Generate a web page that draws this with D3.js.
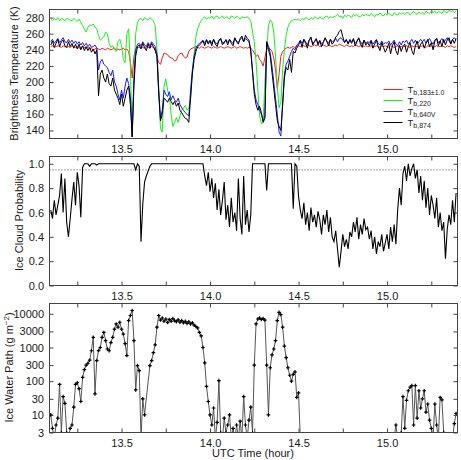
<!DOCTYPE html>
<html>
<head>
<meta charset="utf-8">
<script src="https://cdn.jsdelivr.net/npm/d3@7"></script>
<style>
body { margin: 0; background: #fff; }
text { font-family: "Liberation Sans", Arial, sans-serif; fill: #1a1a1a; }
.axis text { font-size: 11px; }
.axis line { stroke: #444; }
.axis path { display: none; }
</style>
</head>
<body>
<script>
// UTC time (hour), one sample every 0.01 h
var times = [
  13.10,13.11,13.12,13.13,13.14,13.15,13.16,13.17,13.18,13.19,
  13.20,13.21,13.22,13.23,13.24,13.25,13.26,13.27,13.28,13.29,
  13.30,13.31,13.32,13.33,13.34,13.35,13.36,13.37,13.38,13.39,
  13.40,13.41,13.42,13.43,13.44,13.45,13.46,13.47,13.48,13.49,
  13.50,13.51,13.52,13.53,13.54,13.55,13.56,13.57,13.58,13.59,
  13.60,13.61,13.62,13.63,13.64,13.65,13.66,13.67,13.68,13.69,
  13.70,13.71,13.72,13.73,13.74,13.75,13.76,13.77,13.78,13.79,
  13.80,13.81,13.82,13.83,13.84,13.85,13.86,13.87,13.88,13.89,
  13.90,13.91,13.92,13.93,13.94,13.95,13.96,13.97,13.98,13.99,
  14.00,14.01,14.02,14.03,14.04,14.05,14.06,14.07,14.08,14.09,
  14.10,14.11,14.12,14.13,14.14,14.15,14.16,14.17,14.18,14.19,
  14.20,14.21,14.22,14.23,14.24,14.25,14.26,14.27,14.28,14.29,
  14.30,14.31,14.32,14.33,14.34,14.35,14.36,14.37,14.38,14.39,
  14.40,14.41,14.42,14.43,14.44,14.45,14.46,14.47,14.48,14.49,
  14.50,14.51,14.52,14.53,14.54,14.55,14.56,14.57,14.58,14.59,
  14.60,14.61,14.62,14.63,14.64,14.65,14.66,14.67,14.68,14.69,
  14.70,14.71,14.72,14.73,14.74,14.75,14.76,14.77,14.78,14.79,
  14.80,14.81,14.82,14.83,14.84,14.85,14.86,14.87,14.88,14.89,
  14.90,14.91,14.92,14.93,14.94,14.95,14.96,14.97,14.98,14.99,
  15.00,15.01,15.02,15.03,15.04,15.05,15.06,15.07,15.08,15.09,
  15.10,15.11,15.12,15.13,15.14,15.15,15.16,15.17,15.18,15.19,
  15.20,15.21,15.22,15.23,15.24,15.25,15.26,15.27,15.28,15.29,
  15.30,15.31,15.32,15.33,15.34,15.35,15.36,15.37,15.38,15.39
];

// brightness temperatures (K)
var tb183 = [
  244,245,243,244,245,244,243,245,244,243, 244,243,245,244,243,244,242,243,244,243,
  242,243,241,242,240,241,242,241,240,242, 241,240,242,241,240,241,242,240,241,240,
  241,242,240,241,238,225,205,232,241,243, 243,244,243,242,244,243,242,244,243,241,
  232,224,222,230,236,235,234,231,230,229, 226,227,233,235,236,232,230,231,238,241,
  242,243,244,243,242,244,243,242,243,244, 243,242,244,243,242,243,244,243,242,243,
  244,243,242,243,244,242,243,244,243,242, 243,242,243,242,240,236,232,234,228,225,
  220,230,241,242,241,238,230,215,192,210, 232,238,240,242,243,242,243,244,243,244,
  245,244,246,245,244,246,245,244,245,246, 245,246,244,245,246,245,244,246,245,244,
  245,246,245,247,246,245,244,246,245,244, 245,244,246,245,244,245,246,244,245,244,
  244,245,243,244,245,244,243,245,244,245, 244,243,245,244,243,244,245,243,244,245,
  244,245,244,243,245,244,245,244,243,244, 245,244,243,245,244,245,243,244,245,244,
  244,245,244,243,245,244,245,244,243,244
];
var tb220 = [
  278,276,279,277,280,276,279,278,276,279, 278,277,276,279,277,275,278,274,270,266,
  262,268,271,270,272,268,266,258,252,254, 256,262,260,248,243,245,240,238,250,253,
  245,228,224,260,266,218,138,205,260,274, 278,279,276,280,278,277,280,278,276,270,
  240,195,142,138,195,204,190,182,160,145, 150,156,150,158,165,168,171,165,168,178,
  212,235,256,266,272,276,279,281,278,280, 279,282,278,281,282,279,280,282,279,281,
  280,278,282,281,279,282,280,278,281,280, 280,281,279,276,262,250,225,190,158,148,
  150,200,240,270,277,274,262,232,195,168, 175,215,240,258,268,273,276,277,278,277,
  278,276,279,277,280,279,277,280,278,281, 280,278,281,279,278,281,282,279,281,280,
  281,282,284,281,282,279,283,281,283,282, 280,284,282,284,281,281,284,282,284,283,
  282,285,283,281,284,283,286,283,282,285, 283,285,284,282,286,284,283,286,284,286,
  284,286,286,283,285,288,285,284,287,285, 286,284,288,286,285,288,286,288,285,287,
  287,285,289,287,286,289,287,289,286,288
];
var tb640 = [
  250,253,248,251,254,249,252,255,250,249, 253,249,252,248,251,247,250,246,249,245,
  248,244,247,243,244,246,242,215,225,228, 222,220,218,212,208,215,200,195,185,178,
  190,180,195,205,198,182,132,205,240,247, 248,245,250,246,244,249,245,250,247,244,
  235,190,155,165,190,185,182,188,178,183, 178,175,180,172,168,165,162,160,158,190,
  215,232,242,246,248,250,252,248,253,249, 252,248,253,249,247,252,254,249,248,253,
  249,253,250,248,254,251,249,253,255,250, 254,252,250,240,215,190,178,172,165,160,
  152,158,250,245,236,220,200,180,160,138, 133,175,210,222,226,232,238,242,240,246,
  248,252,248,253,250,246,252,254,248,250, 253,248,252,247,250,254,251,248,253,250,
  251,254,250,254,255,252,249,252,248,253, 250,253,248,251,254,250,247,252,248,250,
  249,252,247,250,253,248,246,251,247,249, 248,251,246,249,252,247,245,250,246,251,
  249,252,247,250,253,248,252,247,250,253, 250,253,248,251,254,250,247,252,254,249,
  251,254,249,252,255,251,248,253,255,252
];
var tb874 = [
  246,251,243,248,253,244,250,252,245,243, 250,244,248,242,247,241,247,240,245,239,
  244,239,243,237,241,235,240,183,210,215, 205,200,210,198,195,205,190,185,180,172,
  185,170,180,190,195,172,132,195,232,244, 246,241,248,243,239,247,242,248,244,239,
  232,185,152,160,180,178,175,180,176,172, 176,170,174,165,162,158,155,154,150,180,
  210,228,238,244,246,248,251,245,252,247, 251,245,253,247,244,251,254,246,250,252,
  246,253,248,245,255,250,247,254,257,250, 258,254,252,238,212,185,172,165,170,162,
  150,155,250,240,232,212,192,172,152,145, 140,170,205,218,215,228,212,238,236,242,
  246,251,243,253,248,242,252,256,246,250, 254,246,251,244,249,255,250,245,253,247,
  250,256,258,263,265,256,249,253,247,252, 248,254,245,250,255,247,243,252,246,249,
  245,251,242,247,252,244,239,249,243,237, 242,248,235,245,250,239,234,246,238,244,
  247,237,244,249,239,234,245,251,241,247, 250,242,248,253,244,249,240,251,254,245,
  251,244,253,246,252,255,247,253,248,254
];

// ice cloud probability
var iceProb = [
  0.62,0.55,0.70,0.58,0.66,0.74,0.92,0.60,0.88,0.52, 0.40,0.55,0.71,0.85,0.66,0.93,0.82,0.56,0.97,1.00,
  1.00,1.00,0.98,1.00,1.00,1.00,0.99,1.00,1.00,1.00, 1.00,1.00,1.00,1.00,1.00,1.00,1.00,1.00,1.00,1.00,
  1.00,1.00,1.00,1.00,1.00,1.00,1.00,1.00,0.95,1.00, 0.98,0.36,0.67,0.85,0.90,0.94,0.98,1.00,1.00,1.00,
  1.00,1.00,1.00,1.00,1.00,1.00,1.00,1.00,1.00,1.00, 1.00,1.00,1.00,1.00,1.00,1.00,1.00,1.00,1.00,1.00,
  1.00,1.00,1.00,1.00,1.00,1.00,1.00,0.90,0.82,0.93, 0.77,0.88,0.72,0.84,0.62,0.79,0.58,0.70,0.85,0.54,
  0.66,0.48,0.72,0.52,0.60,0.45,0.88,0.55,0.42,0.90, 0.50,0.62,0.44,0.58,1.00,1.00,1.00,1.00,1.00,1.00,
  1.00,1.00,0.78,1.00,1.00,1.00,1.00,1.00,1.00,1.00, 1.00,1.00,1.00,1.00,1.00,1.00,1.00,0.63,1.00,0.98,
  0.73,0.62,0.55,0.68,0.50,0.60,0.45,0.64,0.52,0.58, 0.48,0.61,0.54,0.42,0.58,0.50,0.62,0.44,0.56,0.40,
  0.36,0.45,0.30,0.15,0.28,0.42,0.32,0.38,0.30,0.44, 0.40,0.52,0.44,0.56,0.38,0.50,0.42,0.55,0.46,0.48,
  0.38,0.45,0.30,0.40,0.26,0.36,0.32,0.42,0.28,0.35, 0.42,0.30,0.48,0.36,0.50,0.34,0.62,0.80,0.66,0.92,
  0.98,0.86,1.00,0.90,0.96,1.00,0.88,0.95,0.76,0.90, 0.70,0.86,0.64,0.80,0.58,0.74,0.66,0.55,0.72,0.48,
  0.60,0.45,0.52,0.22,0.46,0.58,0.50,0.70,0.52,0.76
];
var probThreshold = 0.95;

// ice water path (g m-2), 2 = below the plotted range, null = no retrieval
var iwp = [
  10,4,2,5,8,80,3,35,22,3, 2,4,5,17,80,90,60,25,130,220,
  300,340,420,800,2000,42,410,810,1000,2000, 2800,1600,900,800,1400,2000,3500,5000,4000,5600,
  3500,2500,1300,575,6300,8900,12500,1600,55,290, 206,2,30,10,null,null,290,410,700,1200,
  4000,8900,6500,7500,6000,7000,5500,6800,6000,7200, 6200,5800,6600,5600,6300,5400,6000,5200,5800,5000,
  5400,4600,4200,3800,2800,2200,1000,350,70,25, 10,5,16,2,6,104,3,2,8,3,
  5,10,2,4,2,5,2,6.5,2,35, 5,2,7,17,3,300,5000,7000,7500,6800,
  7200,6500,300,10,250,600,900,1600,6300,11000, 9500,4000,1100,500,250,150,100,160,190,33,
  45,2,2,2,2,2,2,2,2,2, 2,2,2,2,2,2,2,2,2,2,
  2,2,2,2,2,2,2,2,2,2, 2,2,2,2,2,2,2,2,2,2,
  2,2,2,2,2,2,2,2,2,2, 2,2,2,2,2,5,2,2,3,35,
  4,27,52,66,74,5,74,8,52,16, 30,52,12,21,7,4,2,21,5,2,
  33,28,3,2,2,2,2,2,5.5,11
];

// ticks
var xTickLabels = [13.5, 14.0, 14.5, 15.0];
var xMinorTicks = [13.25, 13.75, 14.25, 14.75, 15.25];
var tbTicks = [140, 160, 180, 200, 220, 240, 260, 280];
var probTicks = [0, 0.2, 0.4, 0.6, 0.8, 1.0];
var iwpTicks = [3, 10, 30, 100, 300, 1000, 3000, 10000];

var legendLabels = ["b,183\u00b11.0", "b,220", "b,640V", "b,874"];
var colors = ["#ff1a1a", "#1aee1a", "#1a1aff", "#000000"];
var tbSeries = [tb183, tb220, tb640, tb874];

var margin = {left: 49, top: 9};
var width = 408, panelH = 129;
var tops = [9, 156, 303];

var svg = d3.select("body").append("svg")
    .attr("width", 461)
    .attr("height", 460);

var x = d3.scaleLinear().domain([13.093, 15.398]).range([0, width]);
var y1 = d3.scaleLinear().domain([130, 290]).range([panelH, 0]);
var y2 = d3.scaleLinear().domain([0, 1.06]).range([panelH, 0]);
var y3 = d3.scaleLog().domain([3, 20200]).range([panelH, 0]);

function makePanel(i, y, yTicks, yFormat) {
    var g = svg.append("g")
        .attr("transform", "translate(" + (margin.left + 0.5) + "," + (tops[i] + 0.5) + ")");

    g.append("clipPath").attr("id", "clip" + i)
        .append("rect").attr("width", width).attr("height", panelH);

    // ticks point inward on all four sides, labels only bottom/left
    g.append("g").attr("class", "axis")
        .attr("transform", "translate(0," + panelH + ")")
        .call(d3.axisBottom(x).tickValues(xTickLabels).tickSize(-4).tickPadding(6.5)
            .tickFormat(d3.format(".1f")));
    g.append("g").attr("class", "axis")
        .attr("transform", "translate(0," + panelH + ")")
        .call(d3.axisBottom(x).tickValues(xMinorTicks).tickSize(-4).tickFormat(""));
    g.append("g").attr("class", "axis")
        .call(d3.axisTop(x).tickValues(xTickLabels.concat(xMinorTicks)).tickSize(-4).tickFormat(""));
    g.append("g").attr("class", "axis")
        .call(d3.axisLeft(y).tickValues(yTicks).tickSize(-4).tickPadding(5.5).tickFormat(yFormat));
    g.append("g").attr("class", "axis")
        .attr("transform", "translate(" + width + ",0)")
        .call(d3.axisRight(y).tickValues(yTicks).tickSize(-4).tickFormat(""));

    var plot = g.append("g").attr("clip-path", "url(#clip" + i + ")");
    return {g: g, plot: plot};
}

// panel 1: brightness temperatures
var p1 = makePanel(0, y1, tbTicks, d3.format("d"));
tbSeries.forEach(function(series, k) {
    p1.plot.append("path")
        .datum(series)
        .attr("fill", "none")
        .attr("stroke", colors[k])
        .attr("stroke-width", 1)
        .attr("stroke-linejoin", "round")
        .attr("d", d3.line().x(function(d, j) { return x(times[j]); }).y(function(d) { return y1(d); }));
});

var legend = p1.g.append("g").attr("transform", "translate(334,80)");
var rows = legend.selectAll("g")
    .data(legendLabels)
    .enter().append("g")
    .attr("transform", function(d, k) { return "translate(0," + (k * 11) + ")"; });
rows.append("line")
    .attr("x1", 0).attr("x2", 19)
    .attr("stroke", function(d, k) { return colors[k]; })
    .attr("stroke-width", 1);
var lt = rows.append("text").attr("x", 24).attr("y", 3).style("font-size", "9.5px");
lt.append("tspan").text("T");
lt.append("tspan").attr("dy", 2).style("font-size", "7px").text(function(d) { return d; });

// panel 2: ice cloud probability
var p2 = makePanel(1, y2, probTicks, d3.format(".1f"));
p2.plot.append("line")
    .attr("x1", 0).attr("x2", width)
    .attr("y1", y2(probThreshold)).attr("y2", y2(probThreshold))
    .attr("stroke", "#555")
    .attr("stroke-width", 1)
    .attr("stroke-dasharray", "1,2");
p2.plot.append("path")
    .datum(iceProb)
    .attr("fill", "none")
    .attr("stroke", "#000")
    .attr("stroke-width", 1.1)
    .attr("d", d3.line().x(function(d, j) { return x(times[j]); }).y(function(d) { return y2(d); }));

// panel 3: ice water path (log)
var p3 = makePanel(2, y3, iwpTicks, d3.format("d"));
var iwpPoints = times.map(function(t, j) { return {t: t, v: iwp[j]}; })
    .filter(function(d) { return d.v != null; });
p3.plot.append("path")
    .datum(iwpPoints)
    .attr("fill", "none")
    .attr("stroke", "#555")
    .attr("stroke-width", 1)
    .attr("d", d3.line().x(function(d) { return x(d.t); }).y(function(d) { return y3(d.v); }));
p3.plot.selectAll("path.mk")
    .data(iwpPoints.filter(function(d) { return d.v >= 3; }))
    .enter().append("path")
    .attr("class", "mk")
    .attr("d", d3.symbol(d3.symbolCross, 7))
    .attr("fill", "#000")
    .attr("transform", function(d) { return "translate(" + x(d.t) + "," + y3(d.v) + ")"; });

// frames on top
[p1, p2, p3].forEach(function(p) {
    p.g.append("rect")
        .attr("width", width).attr("height", panelH)
        .attr("fill", "none").attr("stroke", "#444").attr("stroke-width", 1);
});

// axis titles
function yTitle(xPos, yMid) {
    return svg.append("text")
        .attr("transform", "translate(" + xPos + "," + yMid + ") rotate(-90)")
        .attr("text-anchor", "middle")
        .style("font-size", "11px");
}
yTitle(18, 73.5).text("Brightness Temperature (K)");
yTitle(22.5, 220.5).text("Ice Cloud Probability");
var t3 = yTitle(12.5, 367.5);
t3.append("tspan").text("Ice Water Path (g m");
t3.append("tspan").attr("dy", -4).style("font-size", "8px").text("\u22122");
t3.append("tspan").attr("dy", 4).text(")");

svg.append("text")
    .attr("x", 253).attr("y", 457)
    .attr("text-anchor", "middle")
    .style("font-size", "11px")
    .text("UTC Time (hour)");
</script>
</body>
</html>
